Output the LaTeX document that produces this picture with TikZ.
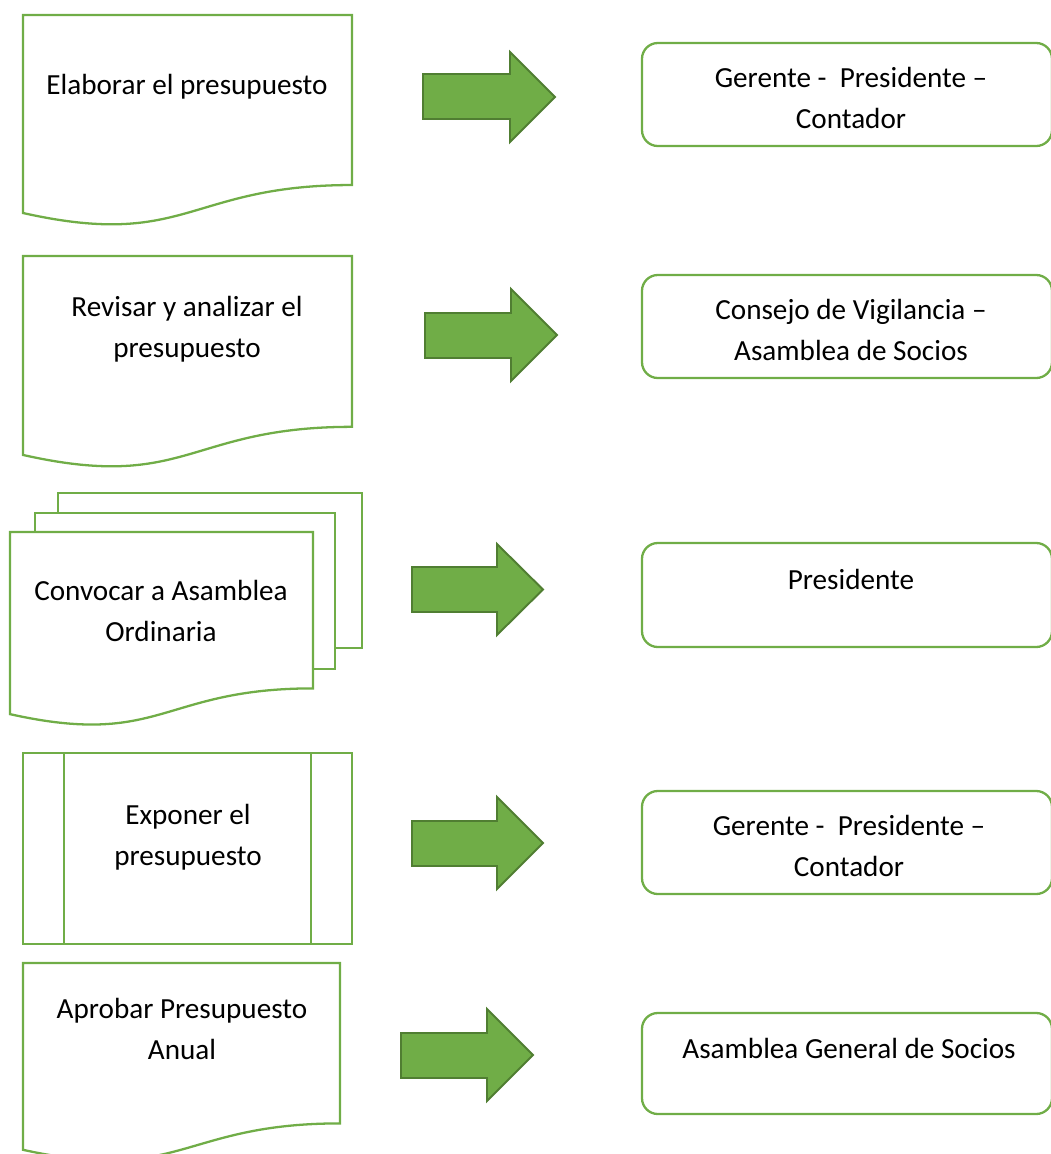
\documentclass[tikz,border=0pt]{standalone}
\usepackage{fontspec}
\setmainfont{Carlito}
\definecolor{shapeline}{HTML}{70AD47}
\definecolor{arrowfill}{HTML}{70AD47}
\definecolor{arrowedge}{HTML}{507E32}

% flowchart "document" outline: top-left corner, width, height
\newcommand\docpath[4]{%
  (#1,#2) -- ({#1+#3},#2) -- ({#1+#3},{#2+0.802*#4})
  .. controls ({#1+#3/2},{#2+0.802*#4}) and ({#1+#3/2},{#2+1.1075*#4}) ..
  (#1,{#2+0.934*#4}) -- cycle}

% block arrow: left, shaft top, shaft bottom, head x, head top, head bottom, tip x
\newcommand\blockarrow[7]{%
  \draw[blockarr] (#1,#2) -- (#4,#2) -- (#4,#5) -- (#7,{(#5+#6)/2})
    -- (#4,#6) -- (#4,#3) -- (#1,#3) -- cycle;}

\begin{document}
\begin{tikzpicture}[x=0.02cm,y=-0.02cm,
  shapebox/.style={draw=shapeline,line width=1.3pt,fill=white,line join=miter},
  roundbox/.style={draw=shapeline,line width=1.3pt,rounded corners=9pt},
  blockarr/.style={fill=arrowfill,draw=arrowedge,line width=1.1pt,line join=miter},
  label/.style={inner sep=0pt,align=center,
    font=\fontsize{16.6}{23.2}\selectfont}]
\useasboundingbox (0,0) rectangle (1051,1154);
\clip (0,0) rectangle (1051,1154);

% --- left column: process steps ---
\draw[shapebox] \docpath{23}{15}{329}{212};
\node[label,anchor=base] (elaborar) at (187,94) {Elaborar el presupuesto};

\draw[shapebox] \docpath{23}{256}{329}{213};
\node[label] (revisar) at (187,329) {Revisar y analizar el\\presupuesto};

% stacked documents
\draw[shapebox] (58,513) -- (58,493) -- (362,493) -- (362,648) -- (335,648);
\draw[shapebox] (35,532) -- (35,513) -- (335,513) -- (335,669) -- (313,669);
\draw[shapebox] \docpath{10}{532}{303}{195};
\node[label] (convocar) at (161,611) {Convocar a Asamblea\\Ordinaria};

% predefined process
\draw[shapebox] (23,753) rectangle (352,944);
\draw[shapebox] (64,753) -- (64,944);
\draw[shapebox] (311,753) -- (311,944);
\node[label] (exponer) at (188,837) {Exponer el\\presupuesto};

\draw[shapebox] \docpath{23}{963}{317}{200};
\node[label] (aprobar) at (182,1029) {Aprobar Presupuesto\\Anual};

% --- middle column: block arrows ---
\blockarrow{423}{74}{119}{510}{52}{142}{555}
\blockarrow{425}{313}{358}{511}{289}{381}{557}
\blockarrow{412}{567}{612}{497}{544}{635}{543}
\blockarrow{412}{821}{866}{497}{797}{889}{543}
\blockarrow{401}{1033}{1078}{487}{1009}{1101}{533}

% --- right column: responsible parties ---
\draw[roundbox] (642,43) rectangle (1052,146);
\node[label] (resp1) at (851,98) {Gerente -~\ Presidente --\\Contador};

\draw[roundbox] (642,275) rectangle (1052,378);
\node[label] (resp2) at (851,330) {Consejo de Vigilancia --\\Asamblea de Socios};

\draw[roundbox] (642,543) rectangle (1052,647);
\node[label,anchor=base] (resp3) at (851,589) {Presidente};

\draw[roundbox] (642,791) rectangle (1052,894);
\node[label] (resp4) at (849,846) {Gerente -~\ Presidente --\\Contador};

\draw[roundbox] (642,1013) rectangle (1052,1114);
\node[label,anchor=base] (resp5) at (849,1058) {Asamblea General de Socios};
\end{tikzpicture}
\end{document}
